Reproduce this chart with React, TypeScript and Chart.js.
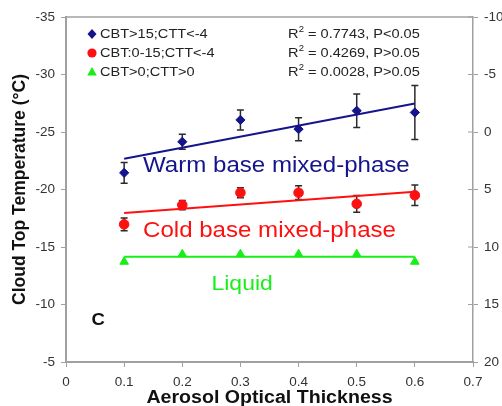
import { useEffect, useRef } from "react";
import { Chart, registerables } from "chart.js";

Chart.register(...registerables);

// ---- data ----
const aot = [0.1, 0.2, 0.3, 0.4, 0.5, 0.6];
const warmCTT = [-21.45, -24.15, -26.05, -25.25, -26.85, -26.7];
const warmErr = [0.9, 0.65, 0.87, 1.0, 1.46, 2.35];
const coldCTT = [-16.97, -18.65, -19.72, -19.72, -18.75, -19.5];
const coldErr = [0.55, 0.4, 0.43, 0.6, 0.72, 0.9];
const liquidCTT = [-13.72, -14.37, -14.37, -14.37, -14.37, -13.72];

const xTicks = [0, 0.1, 0.2, 0.3, 0.4, 0.5, 0.6, 0.7];
const leftTicks = [-35, -30, -25, -20, -15, -10, -5];
const rightTicks = [-10, -5, 0, 5, 10, 15, 20];

const legendLabels = ["CBT>15;CTT<-4", "CBT:0-15;CTT<-4", "CBT>0;CTT>0"];
const r2Values = ["0.7743", "0.4269", "0.0028"];
const pLabels = ["P<0.05", "P>0.05", "P>0.05"];
const regionLabels = ["Warm base mixed-phase", "Cold base mixed-phase", "Liquid"];
const panelLabel = "C";
const xTitle = "Aerosol Optical Thickness";
const yTitle = "Cloud Top Temperature (°C)";

// ---- styles ----
const NAVY = "#14148c";
const RED = "#ff1010";
const GREEN = "#18ee18";
const AXIS = "#a0a0a0";
const FONT = "'Liberation Sans', Arial, Helvetica, sans-serif";
const SX = 1.12; // horizontal stretch of the reference's text

function fitLine(xs: number[], ys: number[]) {
  const n = xs.length;
  const mx = xs.reduce((a, b) => a + b, 0) / n;
  const my = ys.reduce((a, b) => a + b, 0) / n;
  let sxy = 0, sxx = 0;
  for (let i = 0; i < n; i++) {
    sxy += (xs[i] - mx) * (ys[i] - my);
    sxx += (xs[i] - mx) * (xs[i] - mx);
  }
  const slope = sxy / sxx;
  const b = my - slope * mx;
  return [xs[0], xs[n - 1]].map((x) => ({ x, y: b + slope * x }));
}

function sText(ctx: CanvasRenderingContext2D, text: string, x: number, y: number, font: string, color: string, align = "left", baseline: CanvasTextBaseline = "alphabetic") {
  ctx.save();
  ctx.font = font;
  ctx.fillStyle = color;
  ctx.textBaseline = baseline;
  ctx.textAlign = "left";
  const w = ctx.measureText(text).width * SX;
  const x0 = align === "center" ? x - w / 2 : align === "right" ? x - w : x;
  ctx.translate(x0, y);
  ctx.scale(SX, 1);
  ctx.fillText(text, 0, 0);
  ctx.restore();
  return w;
}

function marker(ctx: CanvasRenderingContext2D, kind: string, x: number, y: number, color: string) {
  ctx.save();
  ctx.fillStyle = color;
  ctx.beginPath();
  if (kind === "diamond") {
    ctx.moveTo(x, y - 5); ctx.lineTo(x + 4.5, y); ctx.lineTo(x, y + 5); ctx.lineTo(x - 4.5, y);
  } else if (kind === "circle") {
    ctx.arc(x, y, 4.6, 0, Math.PI * 2);
  } else {
    ctx.moveTo(x, y - 5); ctx.lineTo(x + 4.8, y + 3.5); ctx.lineTo(x - 4.8, y + 3.5);
  }
  ctx.closePath();
  ctx.fill();
  ctx.restore();
}

const errorBars = {
  id: "errorBars",
  beforeDatasetsDraw(chart: any) {
    const { ctx, scales, chartArea } = chart;
    const xs = scales.x, ys = scales.y;
    // frame (top & right edges)
    ctx.save();
    ctx.strokeStyle = AXIS;
    ctx.lineWidth = 1.5;
    ctx.beginPath();
    ctx.moveTo(chartArea.left, chartArea.top);
    ctx.lineTo(chartArea.right, chartArea.top);
    ctx.stroke();
    // inner parts of right-axis ticks
    ctx.lineWidth = 1;
    rightTicks.forEach((v) => {
      const py = scales.y2.getPixelForValue(v);
      ctx.beginPath();
      ctx.moveTo(chartArea.right - 5, py);
      ctx.lineTo(chartArea.right, py);
      ctx.stroke();
    });
    ctx.restore();

    ctx.save();
    ctx.strokeStyle = "#2a2a2a";
    ctx.lineWidth = 1.5;
    const sets = [
      { v: warmCTT, e: warmErr },
      { v: coldCTT, e: coldErr },
    ];
    sets.forEach(({ v, e }) => {
      aot.forEach((a, i) => {
        const px = xs.getPixelForValue(a);
        const y1 = ys.getPixelForValue(v[i] - e[i]);
        const y2 = ys.getPixelForValue(v[i] + e[i]);
        ctx.beginPath();
        ctx.moveTo(px, y1); ctx.lineTo(px, y2);
        ctx.moveTo(px - 3.5, y1); ctx.lineTo(px + 3.5, y1);
        ctx.moveTo(px - 3.5, y2); ctx.lineTo(px + 3.5, y2);
        ctx.stroke();
      });
    });
    ctx.restore();
  },
  afterDraw(chart: any) {
    const { ctx, chartArea } = chart;
    const kinds = ["diamond", "circle", "triangle"];
    const colors = [NAVY, RED, GREEN];
    const rows = [34, 53, 72];
    legendLabels.forEach((t, i) => {
      marker(ctx, kinds[i], 92, rows[i], colors[i]);
      sText(ctx, t, 100, rows[i] + 0.5, `13px ${FONT}`, "#222", "left", "middle");
    });
    r2Values.forEach((r, i) => {
      let x = 288;
      const y = rows[i] + 0.5;
      x += sText(ctx, "R", x, y, `13px ${FONT}`, "#222", "left", "middle");
      sText(ctx, "2", x + 0.3, y - 5, `8.5px ${FONT}`, "#222", "left", "middle");
      x += 5.5;
      sText(ctx, ` = ${r}, ${pLabels[i]}`, x, y, `13px ${FONT}`, "#222", "left", "middle");
    });
    sText(ctx, regionLabels[0], 143, 172, `21.5px ${FONT}`, NAVY);
    sText(ctx, regionLabels[1], 143, 236.5, `21.5px ${FONT}`, RED);
    sText(ctx, regionLabels[2], 211.5, 290, `20.5px ${FONT}`, GREEN);
    sText(ctx, panelLabel, 91.5, 325, `bold 16.5px ${FONT}`, "#111");
    sText(ctx, xTitle, (chartArea.left + chartArea.right) / 2, 402.5, `bold 17.5px ${FONT}`, "#111", "center");
  },
};

export default function App() {
  const ref = useRef<HTMLCanvasElement | null>(null);
  useEffect(() => {
    if (!ref.current) return;
    const tickFont = { family: FONT, size: 13.5 };
    const chart = new Chart(ref.current, {
      type: "scatter",
      data: {
        datasets: [
          { type: "line", label: "warm fit", data: fitLine(aot, warmCTT), borderColor: NAVY, borderWidth: 2, pointRadius: 0, order: 2 } as any,
          { type: "line", label: "cold fit", data: fitLine(aot, coldCTT), borderColor: RED, borderWidth: 2, pointRadius: 0, order: 2 } as any,
          { type: "line", label: "liquid fit", data: fitLine(aot, liquidCTT), borderColor: GREEN, borderWidth: 2.2, pointRadius: 0, order: 2 } as any,
          { label: legendLabels[0], data: aot.map((x, i) => ({ x, y: warmCTT[i] })), pointStyle: "rectRot", pointRadius: 4.6, backgroundColor: NAVY, borderColor: NAVY, order: 1 },
          { label: legendLabels[1], data: aot.map((x, i) => ({ x, y: coldCTT[i] })), pointStyle: "circle", pointRadius: 4.8, backgroundColor: RED, borderColor: RED, order: 1 },
          { label: legendLabels[2], data: aot.map((x, i) => ({ x, y: liquidCTT[i] })), pointStyle: "triangle", pointRadius: 5, backgroundColor: GREEN, borderColor: GREEN, order: 1 },
        ],
      },
      options: {
        animation: false,
        responsive: false,
        layout: { padding: { top: 17, left: 0, right: 0, bottom: 0 } },
        plugins: { legend: { display: false }, tooltip: { enabled: false }, title: { display: false } },
        scales: {
          x: {
            type: "linear",
            min: 0,
            max: 0.7,
            afterBuildTicks: (s: any) => { s.ticks = xTicks.map((value) => ({ value })); },
            afterFit: (s: any) => { s.height = 44; },
            ticks: { font: tickFont, color: "#333", padding: 7, maxRotation: 0, autoSkip: false, callback: (v: any) => (Number(v) === 0 ? "0" : Number(v).toFixed(1)) },
            grid: { drawOnChartArea: false, drawTicks: true, tickLength: 5, color: AXIS },
            border: { display: true, color: AXIS, width: 2 },
          },
          y: {
            type: "linear",
            position: "left",
            reverse: true,
            min: -35,
            max: -5,
            afterBuildTicks: (s: any) => { s.ticks = leftTicks.map((value) => ({ value })); },
            afterFit: (s: any) => { s.width = 66; },
            ticks: { font: tickFont, color: "#333", padding: 6, autoSkip: false },
            grid: { drawOnChartArea: false, drawTicks: true, tickLength: 5, color: AXIS },
            border: { display: true, color: AXIS, width: 2 },
            title: { display: true, text: yTitle, color: "#111", font: { family: FONT, size: 17.5, weight: "bold" }, padding: { top: 9.5, bottom: 0 } },
          },
          y2: {
            type: "linear",
            position: "right",
            display: true,
            reverse: true,
            min: -10,
            max: 20,
            afterBuildTicks: (s: any) => { s.ticks = rightTicks.map((value) => ({ value })); },
            afterFit: (s: any) => { s.width = 29; },
            ticks: { font: tickFont, color: "#333", padding: 6, autoSkip: false },
            grid: { drawOnChartArea: false, drawTicks: true, tickLength: 5, color: AXIS },
            border: { display: true, color: AXIS, width: 1.5 },
          },
        },
      },
      plugins: [errorBars],
    } as any);
    return () => chart.destroy();
  }, []);
  return (
    <div style={{ position: "fixed", left: 0, top: 0, width: 502, height: 406, background: "#fff" }}>
      <canvas ref={ref} width={502} height={406} style={{ width: 502, height: 406, display: "block" }} />
    </div>
  );
}
